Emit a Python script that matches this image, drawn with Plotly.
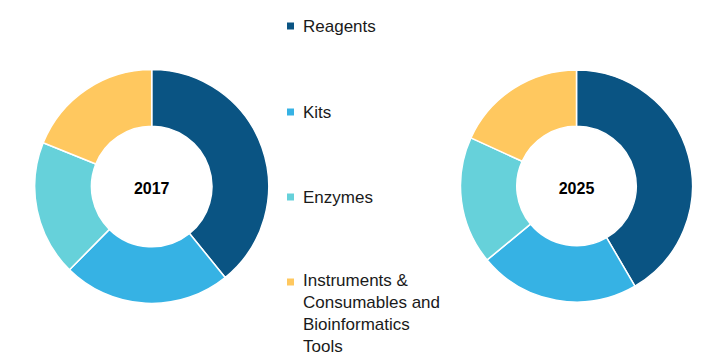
import plotly.graph_objects as go

W, H = 712, 362

categories = ["Reagents", "Kits", "Enzymes", "Instruments &<br>Consumables and<br>Bioinformatics<br>Tools"]
legend_labels = ["Reagents", "Kits", "Enzymes", "Instruments &<br>Consumables and<br>Bioinformatics<br>Tools"]
share_2017 = [39.2, 23.2, 18.7, 18.9]
share_2025 = [41.6, 22.4, 17.8, 18.2]
colors = ["#0A5483", "#36B2E4", "#66D1DA", "#FFC85F"]
years = ["2017", "2025"]


def dom(cx, cy, r):
    return dict(x=[(cx - r) / W, (cx + r) / W], y=[1 - (cy + r) / H, 1 - (cy - r) / H])


fig = go.Figure()
for year, vals, d in [
    (years[0], share_2017, dom(151.7, 186.5, 117)),
    (years[1], share_2025, dom(576.5, 186, 116)),
]:
    fig.add_trace(go.Pie(
        labels=categories, values=vals, hole=0.515, sort=False,
        direction="clockwise", rotation=0, textinfo="none",
        marker=dict(colors=colors, line=dict(color="white", width=1.5)),
        domain=d, showlegend=False, hoverinfo="label+percent",
        title=dict(text="<b>" + year + "</b>", position="middle center",
                   font=dict(family="Liberation Sans, Arial, sans-serif", size=16, color="#000")),
    ))

# legend built as annotations + squares
legend_y = [26, 112, 197, 313.5]
square_y = [26, 112, 197, 282]
annotations = []
shapes = []
for lab, c, ty, sy in zip(legend_labels, colors, legend_y, square_y):
    annotations.append(dict(
        x=302 / W, y=1 - ty / H, xref="paper", yref="paper", text=lab,
        xanchor="left", yanchor="middle", align="left", showarrow=False,
        borderpad=0, font=dict(family="Liberation Sans, Arial, sans-serif", size=17, color="#1a1a1a"),
    ))
    shapes.append(dict(
        type="rect", xref="paper", yref="paper",
        x0=287 / W, x1=294 / W, y0=1 - (sy + 3.5) / H, y1=1 - (sy - 3.5) / H,
        fillcolor=c, line=dict(width=0),
    ))

fig.update_layout(
    width=W, height=H, margin=dict(l=0, r=0, t=0, b=0),
    paper_bgcolor="white", plot_bgcolor="white",
    annotations=annotations, shapes=shapes,
)
fig.write_html("out.html")
